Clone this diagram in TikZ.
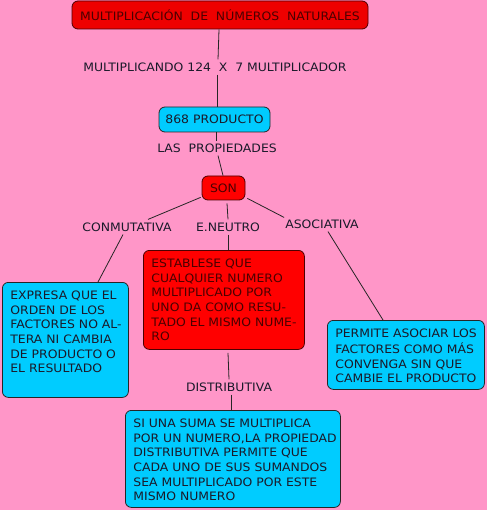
\documentclass[tikz,border=0pt]{standalone}
\usepackage{fontspec}
\setmainfont[FakeStretch=1.07]{DejaVu Sans}
\usetikzlibrary{calc}
\definecolor{bgpink}{HTML}{FF96C8}
\definecolor{boxcyan}{HTML}{00CCFF}
\definecolor{boxred}{HTML}{FF0000}
\definecolor{titlered}{HTML}{EE0000}
\definecolor{txtdark}{HTML}{1A1A2A}
\definecolor{txtmaroon}{HTML}{4A0000}
\newcommand\boxtxt[3]{\hspace*{8pt}\parbox[c][#2pt][t]{#1pt}{\raggedright\strut #3}\hspace*{4pt}}
\begin{document}
\begin{tikzpicture}[x=1pt,y=-1pt,
  every node/.style={font=\fontsize{11.6}{14.6}\selectfont},
  base/.style={rounded corners=6pt, line width=0.8pt},
  redbox/.style={base, draw=black!70!red, fill=boxred, text=txtmaroon},
  cyanbox/.style={base, draw=black!85, fill=boxcyan, text=txtdark},
  bigbox/.style={anchor=north west, inner xsep=0pt, inner ysep=7pt},
  lbl/.style={inner sep=3pt, text=txtdark},
  link/.style={line width=0.8pt, draw=black!85}]
\fill[bgpink] (0,0) rectangle (487,510);
\useasboundingbox (0,0) rectangle (487,510);

\node[redbox, fill=titlered, minimum width=296pt, minimum height=28pt] (title) at (220,15)
  {MULTIPLICACIÓN\ \ DE\ \ NÚMEROS\ \ NATURALES};
\node[lbl] (mult) at (215,67) {MULTIPLICANDO 124\ \ X\ \ 7 MULTIPLICADOR};
\node[cyanbox, minimum width=111pt, minimum height=25pt, inner sep=0pt] (prod) at (214.5,119.5) {868 PRODUCTO};
\node[lbl] (prop) at (217,148) {LAS\ \ PROPIEDADES};
\node[redbox, minimum width=43pt, minimum height=24pt, inner sep=0pt] (son) at (223.5,188) {SON};
\node[lbl] (conm) at (127,227) {CONMUTATIVA};
\node[lbl] (neut) at (228,227) {E.NEUTRO};
\node[lbl] (asoc) at (322,224) {ASOCIATIVA};
\node[lbl] (dist) at (229,387) {DISTRIBUTIVA};

\node[cyanbox, bigbox] (conmbox) at (2,282) {\boxtxt{114}{101}{\mbox{EXPRESA QUE EL}\\\mbox{ORDEN DE LOS}\\\mbox{FACTORES NO AL-}\\\mbox{TERA NI CAMBIA}\\\mbox{DE PRODUCTO O}\\\mbox{EL RESULTADO}}};
\node[redbox, bigbox] (neutbox) at (143,250) {\boxtxt{149}{85}{\mbox{ESTABLESE QUE}\\\mbox{CUALQUIER NUMERO}\\\mbox{MULTIPLICADO POR}\\\mbox{UNO DA COMO RESU-}\\\mbox{TADO EL MISMO NUME-}\\RO}};
\node[cyanbox, bigbox] (asocbox) at (327,320) {\boxtxt{145}{55}{\mbox{PERMITE ASOCIAR LOS}\\\mbox{FACTORES COMO MÁS}\\\mbox{CONVENGA SIN QUE}\\\mbox{CAMBIE EL PRODUCTO}}};
\node[cyanbox, bigbox] (distbox) at (125,410) {\boxtxt{203}{83}{\mbox{SI UNA SUMA SE MULTIPLICA}\\\mbox{POR UN NUMERO,LA PROPIEDAD}\\\mbox{DISTRIBUTIVA PERMITE QUE}\\\mbox{CADA UNO DE SUS SUMANDOS}\\\mbox{SEA MULTIPLICADO POR ESTE}\\\mbox{MISMO NUMERO}}};

\draw[link] ($(title.south)+(-1,0)$) -- ($(mult.north)+(3,0)$);
\draw[link] ($(mult.south)+(2,0)$) -- ($(prod.north)+(2.5,0)$);
\draw[link] ($(prod.south)+(1.5,0)$) -- ($(prop.north)+(-1,1)$);
\draw[link] ($(prop.south)+(1,0)$) -- ($(son.north)+(-0.5,0)$);
\draw[link] ($(son.south west)+(-1,-3)$) -- ($(conm.north)+(21,0)$);
\draw[link] ($(conm.south)+(-4,0)$) -- ($(conmbox.north west)+(96,0)$);
\draw[link] ($(son.south)+(3.5,3)$) -- (neut.north);
\draw[link] (neut.south) -- ($(neutbox.north west)+(85,0)$);
\draw[link] ($(son.south east)+(2,-2)$) -- ($(asoc.north west)+(2,1)$);
\draw[link] ($(asoc.south)+(6,0)$) -- ($(asocbox.north west)+(56,0)$);
\draw[link] ($(neutbox.south west)+(85,3)$) -- (dist.north);
\draw[link] ($(dist.south)+(2,0)$) -- ($(distbox.north west)+(106,0)$);
\end{tikzpicture}
\end{document}
